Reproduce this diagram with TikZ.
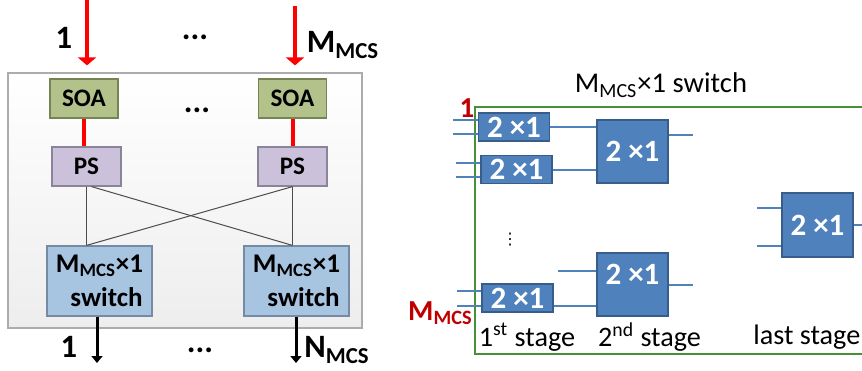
\documentclass[tikz,border=0pt]{standalone}
\usepackage{fontspec}
\setmainfont{Carlito}
\newfontfamily\symfont{DejaVu Sans}
\usepackage{xcolor}
\usepackage{tikz}
\usetikzlibrary{arrows.meta}

\definecolor{soagreen}{RGB}{179,194,138}
\definecolor{soaline}{RGB}{118,132,84}
\definecolor{pslilac}{RGB}{204,193,218}
\definecolor{psline}{RGB}{138,132,152}
\definecolor{swblue}{RGB}{167,196,224}
\definecolor{swline}{RGB}{118,138,163}
\definecolor{cellblue}{RGB}{79,129,189}
\definecolor{cellline}{RGB}{56,93,138}
\definecolor{framegreen}{RGB}{70,145,55}
\definecolor{labelred}{RGB}{192,0,0}

\newcommand{\mcs}{\textsubscript{MCS}}

\tikzset{
  outerbox/.style={draw=gray!65, line width=0.6pt, top color=white, bottom color=gray!14,
    minimum width=177pt, minimum height=127.5pt, inner sep=0pt},
  soabox/.style={draw=soaline, fill=soagreen, line width=0.6pt, inner sep=0pt,
    minimum width=34pt, minimum height=19.5pt, font=\fontsize{12.6}{13}\selectfont\bfseries},
  psbox/.style={draw=psline, fill=pslilac, line width=0.6pt, inner sep=0pt,
    minimum width=34.5pt, minimum height=19.5pt, font=\fontsize{12.6}{13}\selectfont\bfseries},
  swbox/.style={draw=swline, fill=swblue, line width=0.6pt, inner sep=0pt, align=center,
    minimum width=52.5pt, minimum height=35pt, font=\fontsize{13.5}{17}\selectfont\bfseries},
  biglab/.style={inner sep=0pt, font=\fontsize{16.3}{17}\selectfont\bfseries},
  redin/.style={red, line width=2pt, -{Triangle[width=9pt,length=4pt]}},
  blackout/.style={black, line width=1.5pt, -{Triangle[width=5.5pt,length=3.5pt]}},
  redlink/.style={red, line width=2pt},
  link/.style={draw=gray!60!black, line width=0.5pt},
  cell/.style={draw=cellline, fill=cellblue, text=white, line width=0.6pt, inner sep=0pt,
    minimum width=35.5pt, minimum height=14pt, font=\fontsize{15.5}{16}\selectfont\bfseries},
  wire/.style={draw=cellblue, line width=1pt},
  redlab/.style={labelred, inner sep=0pt, font=\fontsize{14.5}{15}\selectfont\bfseries},
  stagelab/.style={inner sep=0pt, font=\fontsize{14.1}{15}\selectfont}
}

\begin{document}
\begin{tikzpicture}[x=0.5pt,y=-0.5pt]
\clip (0,0) rectangle (862,370);

% left: SOA / PS / switch array
\node[outerbox] (mcsbox) at (185,200.5) {};
\node[soabox] (soa1) at (84,98.5) {SOA};
\node[soabox] (soa2) at (292.5,98.5) {SOA};
\node[psbox] (ps1) at (86.5,166.5) {PS};
\node[psbox] (ps2) at (292.5,166.5) {PS};
\node[swbox] (sw1) at (99.5,281) {M\mcs×1\\\hspace*{7pt}switch};
\node[swbox] (sw2) at (296.5,281) {M\mcs×1\\\hspace*{7pt}switch};

\draw[redlink] (soa1.south) -- (soa1.south |- ps1.north);
\draw[redlink] (soa2.south) -- (soa2.south |- ps2.north);

\draw[link] (ps1.south) -- (ps1.south |- sw1.north);
\draw[link] (ps2.south) -- (ps2.south |- sw2.north);
\draw[link] ([xshift=2.5pt]ps1.south) -- (ps2.south |- sw2.north);
\draw[link] (ps2.south) -- (ps1.south |- sw1.north);

\coordinate (in1) at (87,0);
\coordinate (in2) at (295,6);
\draw[redin, shorten >=3.5pt] (in1) -- (in1 |- mcsbox.north);
\draw[redin, shorten >=3.5pt] (in2) -- (in2 |- mcsbox.north);

\coordinate (out1) at (97,363);
\coordinate (out2) at (296,363);
\draw[blackout] (sw1.south -| out1) -- (out1);
\draw[blackout] (sw2.south -| out2) -- (out2);

\node[biglab] (inlab1) at (64,38) {1};
\node[biglab] (inlabM) at (343,45) {M\mcs};
\node[biglab] (indots) at (195,37) {...};
\node[biglab] (middots) at (197,110) {...};
\node[biglab] (outlab1) at (69,347) {1};
\node[biglab] (outlabN) at (337,350) {N\mcs};
\node[biglab] (outdots) at (200,350) {...};

% right: inside one M x 1 switch
\draw[framegreen, line width=0.75pt] (475,107) rectangle (900,354);
\node[inner sep=0pt, font=\fontsize{14.3}{15}\selectfont] (title) at (661,85) {M\mcs×1 switch};

\node[cell] (c1) at (514,127) {2 ×1};
\node[cell] (c2) at (516.5,169.5) {2 ×1};
\node[cell] (c3) at (517.5,298) {2 ×1};
\node[cell, minimum height=31.5pt] (d1) at (632.5,151.5) {2 ×1};
\node[cell, minimum height=31.5pt, text height=10.5pt, text depth=10.5pt] (d2) at (632.5,284.5) {2 ×1};
\node[cell, minimum height=32pt] (last) at (817.5,225) {2 ×1};

\foreach \c/\len in {c1/25, c2/24, c3/24} {
  \draw[wire] ([yshift=3.5pt]\c.west) -- ++(-\len,0);
}
\draw[wire] ([yshift=-3.5pt]c1.west) -- ++(-25,0);
\draw[wire] ([yshift=-3.5pt]c2.west) -- ++(-24,0);
\draw[wire] ([yshift=-3.75pt]c3.west) -- ++(-24,0);

\draw[wire] (c1.east) -- (c1.east -| d1.west);
\draw[wire] (c2.east) -- (c2.east -| d1.west);
\draw[wire] ([yshift=-3.75pt]c3.east) -- ([yshift=-3.75pt]c3.east -| d2.west);
\draw[wire] ([yshift=6.75pt]d2.west) -- ++(-38,0);
\draw[wire] ([yshift=8.25pt]d1.east) -- ++(24,0);
\draw[wire] (d2.east) -- ++(24,0);
\draw[wire] ([yshift=8.5pt]last.west) -- ++(-24,0);
\draw[wire] ([yshift=-10.5pt]last.west) -- ++(-24,0);
\draw[wire] (last.east) -- ++(20,0);

\node[inner sep=0pt, font=\symfont\fontsize{8}{9}\selectfont] (vdots) at (510,240) {⋮};

\node[redlab] (red1) at (467,108) {1};
\node[redlab, anchor=east] (redM) at (473,313) {M\mcs};

\node[stagelab] (stage1) at (527,337) {1\textsuperscript{st} stage};
\node[stagelab] (stage2) at (649.5,337) {2\textsuperscript{nd} stage};
\node[stagelab, anchor=west] (stage3) at (753,337) {last stage};
\end{tikzpicture}
\end{document}
